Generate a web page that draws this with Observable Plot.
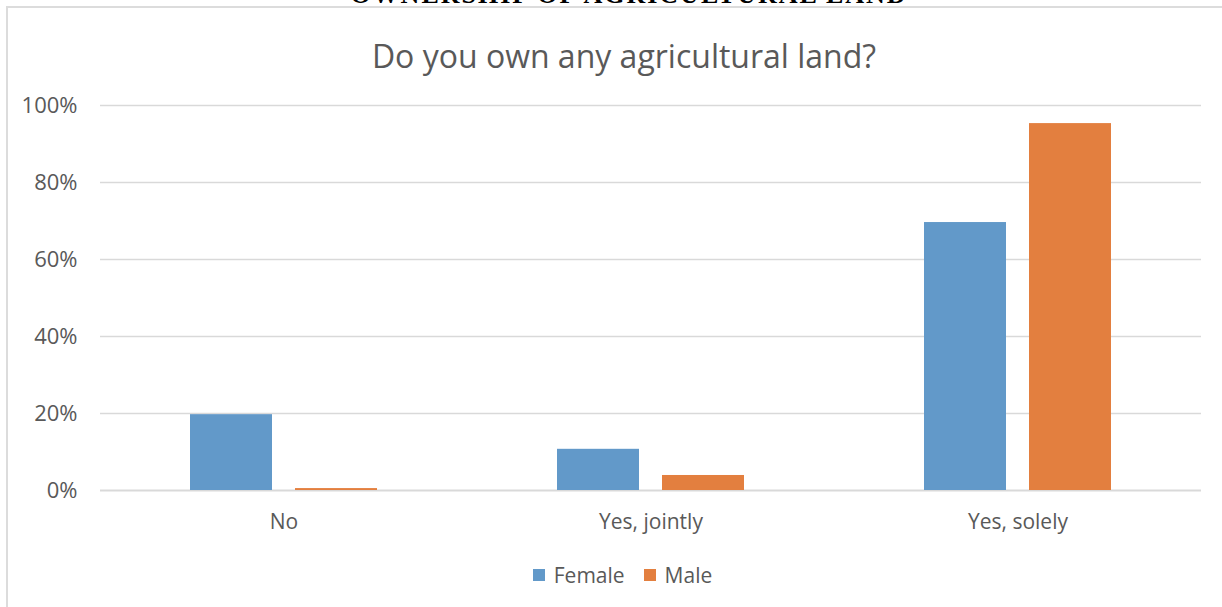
<!DOCTYPE html>
<html>
<head>
<meta charset="utf-8">
<script src="https://cdn.jsdelivr.net/npm/d3@7"></script>
<script src="https://cdn.jsdelivr.net/npm/@observablehq/plot@0.6"></script>
<style>
  html, body { margin: 0; padding: 0; background: #fff; }
  #page { position: relative; width: 1222px; height: 607px; overflow: hidden; background: #fff; font-family: "Open Sans", sans-serif; }
  #frame { position: absolute; left: 6px; top: 6px; width: 1300px; height: 700px; border-left: 2px solid #dcdcdc; border-top: 2px solid #dcdcdc; box-sizing: border-box; }
  #header { position: absolute; left: 0; width: 1258px; top: -18px; text-align: center; font-family: "Liberation Serif", serif; font-weight: bold; font-size: 26px; line-height: 26px; letter-spacing: 2px; color: #000; white-space: nowrap; }
  #title { position: absolute; left: 0; width: 1248px; top: 40px; text-align: center; font-size: 32px; line-height: 32px; color: #595959; white-space: nowrap; }
  #chart { position: absolute; left: 0; top: 85px; }
  #legend { position: absolute; left: 0; width: 1245px; top: 561px; display: flex; justify-content: center; gap: 19px; font-size: 21px; line-height: 28px; color: #595959; }
  .item { display: flex; align-items: center; gap: 9px; }
  .sw { width: 12px; height: 12px; display: inline-block; }
</style>
</head>
<body>
<div id="page">
  <div id="frame"></div>
  <div id="header">OWNERSHIP OF AGRICULTURAL LAND</div>
  <div id="title">Do you own any agricultural land?</div>
  <div id="chart"></div>
  <div id="legend"></div>
</div>
<script>
const categories = ["No", "Yes, jointly", "Yes, solely"];
const seriesNames = ["Female", "Male"];
const seriesColors = ["#6299C9", "#E37F3F"];
const femaleValues = [0.197, 0.107, 0.696];
const maleValues = [0.005, 0.039, 0.953];
const yTicks = [0, 0.2, 0.4, 0.6, 0.8, 1.0];

const rows = [];
categories.forEach((c, i) => {
  rows.push({category: c, sex: "Female", value: femaleValues[i]});
  rows.push({category: c, sex: "Male", value: maleValues[i]});
});

const chart = Plot.plot({
  width: 1222,
  height: 460,
  marginLeft: 100,
  marginRight: 21,
  marginTop: 20,
  marginBottom: 55,
  style: {fontFamily: "Open Sans", fontSize: "21px", color: "#595959", background: "transparent"},
  fx: {domain: categories, padding: 0, label: null, axis: "bottom", tickSize: 0, tickPadding: 24},
  x: {domain: seriesNames, paddingInner: 0.219, paddingOuter: 0.857, axis: null},
  y: {domain: [0, 1], ticks: yTicks, tickFormat: d3.format(".0%"), tickSize: 0, tickPadding: 23, label: null},
  color: {domain: seriesNames, range: seriesColors},
  marks: [
    Plot.ruleY(yTicks.filter(d => d > 0), {stroke: "#d9d9d9", strokeWidth: 1.5}),
    Plot.ruleY([0], {stroke: "#d9d9d9", strokeWidth: 2}),
    Plot.barY(rows, {fx: "category", x: "sex", y: "value", fill: "sex"}),
    Plot.axisY({ticks: yTicks, tickFormat: d3.format(".0%"), tickSize: 0, tickPadding: 23, label: null, fontSize: 22})
  ]
});
document.getElementById("chart").appendChild(chart);

const legend = document.getElementById("legend");
seriesNames.forEach((s, i) => {
  const it = document.createElement("div");
  it.className = "item";
  const sw = document.createElement("span");
  sw.className = "sw";
  sw.style.background = seriesColors[i];
  const t = document.createElement("span");
  t.textContent = s;
  it.appendChild(sw);
  it.appendChild(t);
  legend.appendChild(it);
});
</script>
</body>
</html>
